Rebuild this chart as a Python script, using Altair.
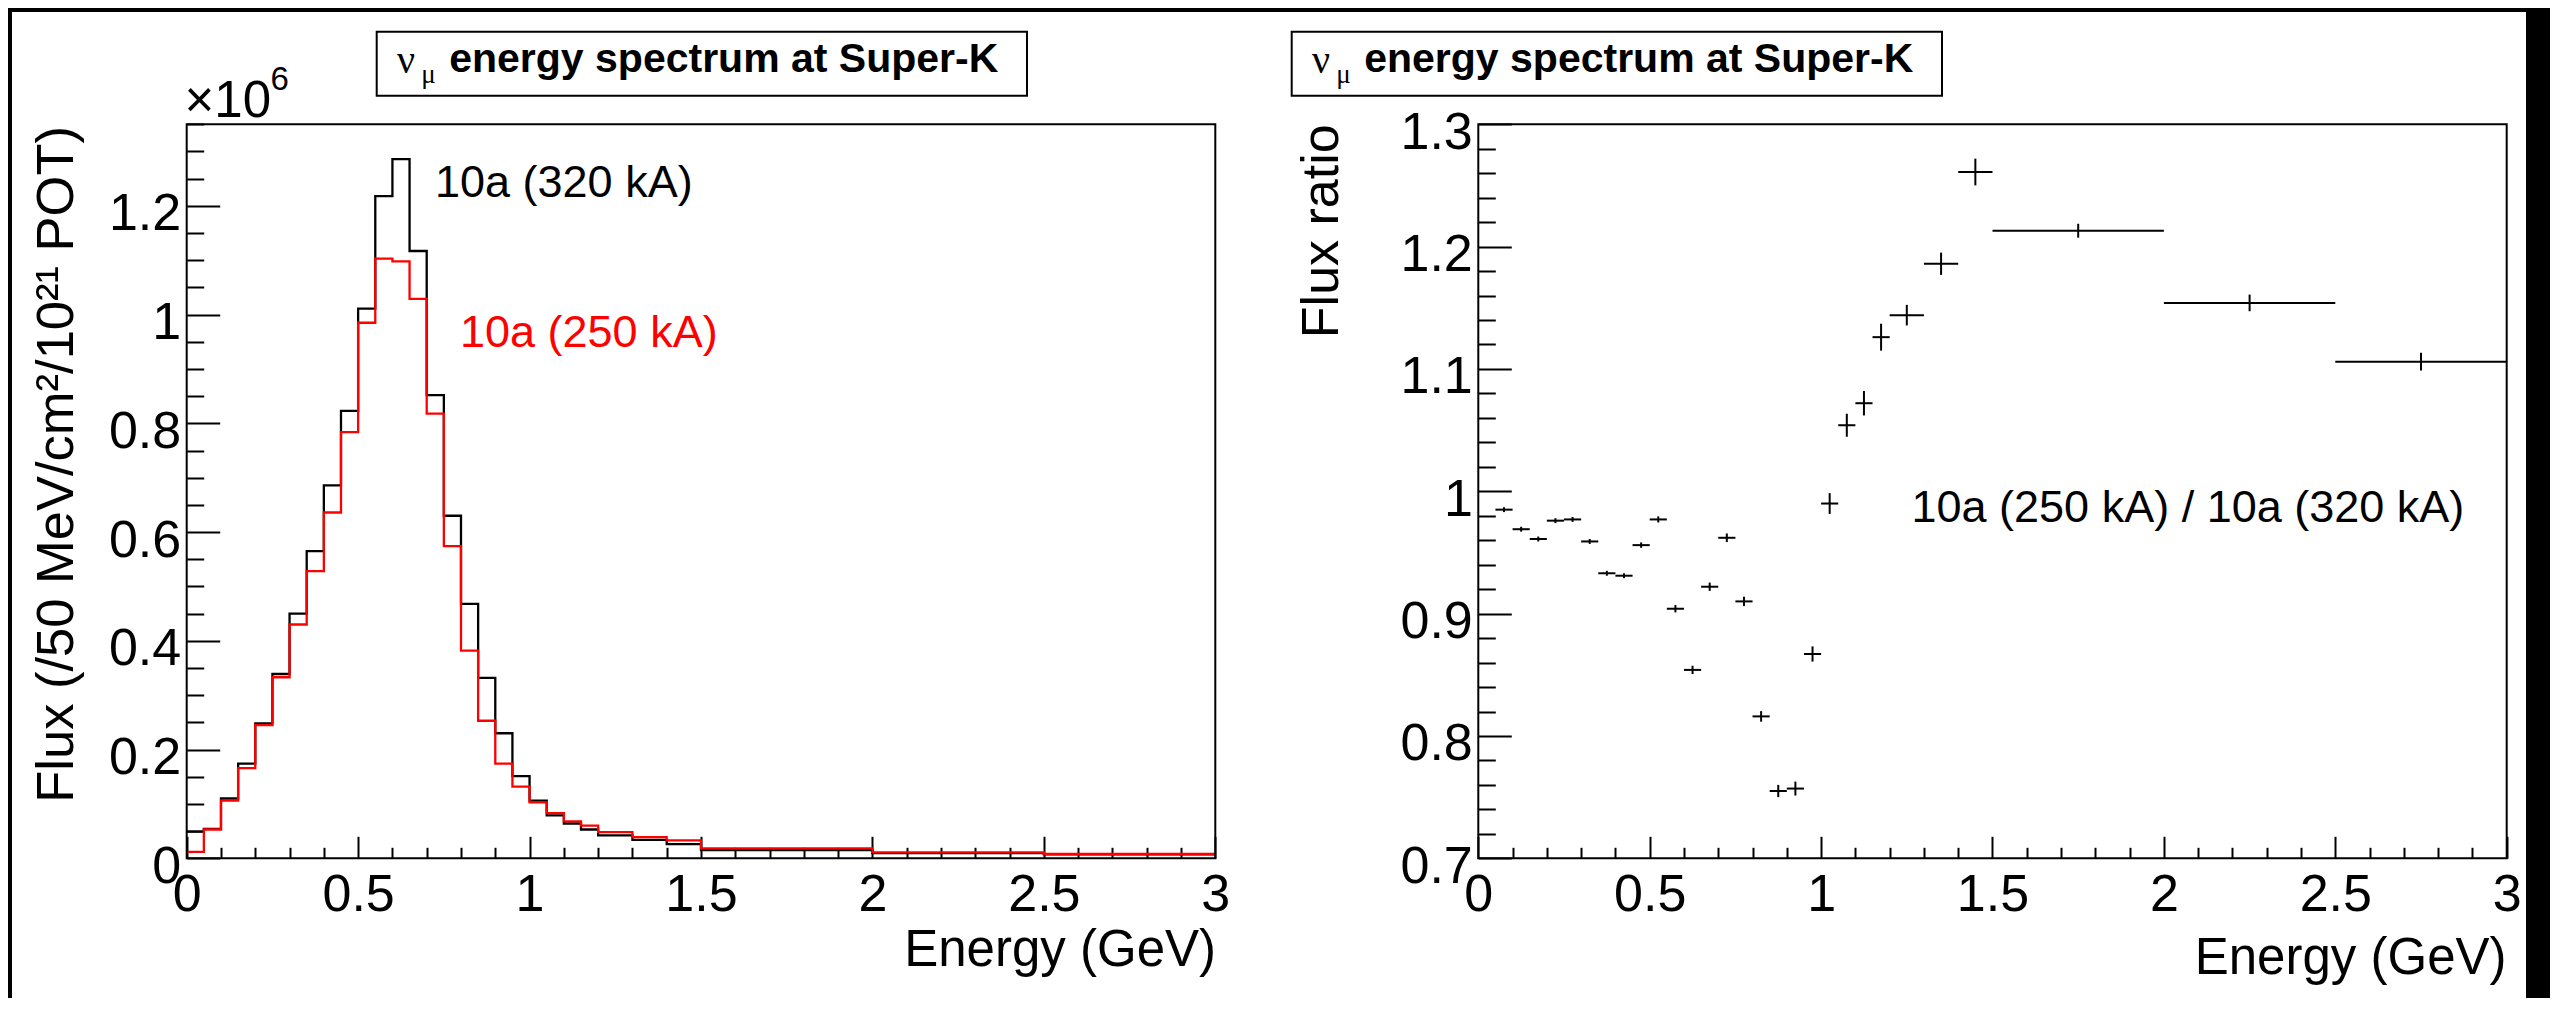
import altair as alt
import pandas as pd

# ---------------- data ----------------
bin_edges = [0.00, 0.05, 0.10, 0.15, 0.20, 0.25, 0.30, 0.35, 0.40, 0.45, 0.50, 0.55,
             0.60, 0.65, 0.70, 0.75, 0.80, 0.85, 0.90, 0.95, 1.00, 1.05, 1.10, 1.15,
             1.20, 1.30, 1.40, 1.50, 2.00, 2.50, 3.00]

# flux in units of 1e6 (/50 MeV/cm2/1e21 POT)
flux_320 = [0.049, 0.054, 0.110, 0.174, 0.248, 0.339, 0.450, 0.565, 0.686, 0.823,
            1.011, 1.218, 1.286, 1.117, 0.852, 0.630, 0.468, 0.332, 0.230, 0.151,
            0.106, 0.079, 0.064, 0.053, 0.042, 0.034, 0.026, 0.0152, 0.0095, 0.0072]
flux_250 = [0.012, 0.053, 0.106, 0.166, 0.245, 0.333, 0.430, 0.528, 0.636, 0.784,
            0.985, 1.103, 1.098, 1.029, 0.818, 0.574, 0.382, 0.253, 0.174, 0.132,
            0.103, 0.083, 0.068, 0.060, 0.048, 0.039, 0.033, 0.0184, 0.011, 0.0079]

# ratio 250 kA / 320 kA for bins 2..30 (first bin is off scale)
ratio_250_320 = [0.985, 0.969, 0.961, 0.976, 0.977, 0.959, 0.933, 0.931, 0.956, 0.977,
                 0.904, 0.854, 0.922, 0.962, 0.910, 0.816, 0.755, 0.757, 0.867, 0.990,
                 1.054, 1.072, 1.126, 1.144, 1.186, 1.261, 1.213, 1.154, 1.106]
ratio_err = [0.002, 0.002, 0.002, 0.002, 0.002, 0.002, 0.002, 0.002, 0.0022, 0.0025,
             0.003, 0.0034, 0.0034, 0.0035, 0.0038, 0.0043, 0.005, 0.0057, 0.0062, 0.0085,
             0.0094, 0.010, 0.011, 0.0084, 0.0091, 0.0109, 0.0057, 0.0068, 0.0072]

x_major = [0, 0.5, 1, 1.5, 2, 2.5, 3]
x_minor = [round(0.1 * i, 1) for i in range(31) if i % 5]
flux_major = [0, 0.2, 0.4, 0.6, 0.8, 1, 1.2]
flux_minor = [round(0.05 * i, 2) for i in range(28) if i % 4]
ratio_major = [0.7, 0.8, 0.9, 1, 1.1, 1.2, 1.3]
ratio_minor = [round(0.7 + 0.02 * i, 2) for i in range(31) if i % 5]

E_RANGE = [0, 3]
FLUX_RANGE = [0, 1.35]
RATIO_RANGE = [0.7, 1.3]

title_main = "energy spectrum at Super-K"
label_320 = "10a (320 kA)"
label_250 = "10a (250 kA)"
label_ratio = "10a (250 kA) / 10a (320 kA)"
ytitle_flux = "Flux (/50 MeV/cm\u00b2/10\u00b2\u00b9 POT)"
ytitle_ratio = "Flux ratio"
xtitle = "Energy (GeV)"

# ---------------- layout (page pixels) ----------------
PAD = {"left": 4, "top": 4, "right": 24, "bottom": 0}
X0 = 8 + PAD["left"]
Y0 = 8 + PAD["top"]
SPLIT = 1260
XEND = 2526
H = 986
W1 = SPLIT - X0
W2 = XEND - SPLIT
FT, FB = 124.3, 858.3
LFL, LFR = 186.7, 1215.3
RFL, RFR = 1478.3, 2506.7

FONT = "Liberation Sans"
SERIF = "Liberation Serif"
TICK_FS = 52
TITLE_FS = 51


def lin_domain(p_lo, p_hi, v_lo, v_hi, size):
    k = (v_hi - v_lo) / (p_hi - p_lo)
    return [v_lo - p_lo * k, v_lo + (size - p_lo) * k]


def scale(dom):
    return alt.Scale(domain=dom, nice=False, zero=False)


xs_L = scale(lin_domain(LFL - X0, LFR - X0, E_RANGE[0], E_RANGE[1], W1))
xs_R = scale(lin_domain(RFL - SPLIT, RFR - SPLIT, E_RANGE[0], E_RANGE[1], W2))
ys_L = scale(lin_domain(Y0 + H - FB, Y0 + H - FT, FLUX_RANGE[0], FLUX_RANGE[1], H))
ys_R = scale(lin_domain(Y0 + H - FB, Y0 + H - FT, RATIO_RANGE[0], RATIO_RANGE[1], H))


def xaxis(values, tick, labels):
    return alt.Axis(orient="bottom", values=values, tickSize=tick, tickWidth=2,
                    tickColor="black", domain=False, grid=False, labels=labels,
                    title=None, format="~g", labelFont=FONT, labelFontSize=TICK_FS,
                    labelColor="black", labelPadding=11, labelOverlap=False,
                    labelFlush=False, labelBound=False,
                    offset=-((Y0 + H - FB) + tick))


def yaxis(values, tick, labels, frame_left_panel):
    return alt.Axis(orient="left", values=values, tickSize=tick, tickWidth=2,
                    tickColor="black", domain=False, grid=False, labels=labels,
                    title=None, format="~g", labelFont=FONT, labelFontSize=TICK_FS,
                    labelColor="black", labelPadding=6, labelOffset=8,
                    labelOverlap=False, labelFlush=False, labelBound=False,
                    offset=-(frame_left_panel + tick))


one = pd.DataFrame({"k": [0]})


def text(s, px, py, size, color="black", align="left", angle=0, font=FONT, weight="normal"):
    props = dict(text=s, fontSize=size, color=color, align=align,
                 baseline="alphabetic", font=font, fontWeight=weight)
    if angle:
        props["angle"] = angle
    return alt.Chart(one).mark_text(**props).encode(x=alt.value(px), y=alt.value(py))


def box(x1, x2, y1, y2):
    return alt.Chart(one).mark_rect(fill="white", stroke="black", strokeWidth=2).encode(
        x=alt.value(x1), x2=alt.value(x2), y=alt.value(y1), y2=alt.value(y2))


def title_block(ox, box_left):
    b = box_left
    return [
        box(b - ox, b + 650.3 - ox, 31.7 - Y0, 95.7 - Y0),
        text("\u03bd", b + 20.3 - ox, 73 - Y0, 40, font=SERIF),
        text("\u03bc", b + 44.5 - ox, 83 - Y0, 27, font=SERIF),
        text(title_main, b + 72.5 - ox, 72 - Y0, 41, weight="bold"),
    ]


def frame(xs, ys, yr):
    df = pd.DataFrame({"x0": [E_RANGE[0]], "x1": [E_RANGE[1]], "y0": [yr[0]], "y1": [yr[1]]})
    return alt.Chart(df).mark_rect(fillOpacity=0, stroke="black", strokeWidth=2).encode(
        x=alt.X("x0:Q", scale=xs, axis=None), x2="x1:Q",
        y=alt.Y("y0:Q", scale=ys, axis=None), y2="y1:Q")


# ---------------- left panel: spectra ----------------
def step_df(vals):
    return pd.DataFrame({"e": bin_edges, "v": list(vals) + [vals[-1]]})


hist_320 = alt.Chart(step_df(flux_320)).mark_line(
    interpolate="step-after", color="black", strokeWidth=2.3).encode(
    x=alt.X("e:Q", scale=xs_L, axis=xaxis(x_major, 22, True)),
    y=alt.Y("v:Q", scale=ys_L, axis=yaxis(flux_major, 33, True, LFL - X0)))

hist_250 = alt.Chart(step_df(flux_250)).mark_line(
    interpolate="step-after", color="#ff0000", strokeWidth=2.3).encode(
    x=alt.X("e:Q", scale=xs_L, axis=xaxis(x_minor, 11, False)),
    y=alt.Y("v:Q", scale=ys_L, axis=yaxis(flux_minor, 17, False, LFL - X0)))

left_layers = [hist_320, hist_250, frame(xs_L, ys_L, FLUX_RANGE)] + title_block(X0, 376.7) + [
    text("\u00d710", 184.5 - X0, 116.7 - Y0, 51),
    text("6", 270.5 - X0, 90 - Y0, 33),
    text(label_320, 435 - X0, 197.3 - Y0, 45),
    text(label_250, 460 - X0, 346.7 - Y0, 45, color="#ff0000"),
    text(ytitle_flux, 72.7 - X0, 126 - Y0, 52.5, align="right", angle=270),
    text(xtitle, 1216 - X0, 966 - Y0, TITLE_FS, align="right"),
]

left = alt.layer(*left_layers).resolve_axis(x="independent", y="independent").properties(
    width=W1, height=H)

# ---------------- right panel: ratio ----------------
rdf = pd.DataFrame({"lo": bin_edges[1:-1], "hi": bin_edges[2:],
                    "r": ratio_250_320, "err": ratio_err})

rbase = alt.Chart(rdf).transform_calculate(
    c="(datum.lo + datum.hi) / 2", ylo="datum.r - datum.err", yhi="datum.r + datum.err")

hbar = rbase.mark_rule(color="black", strokeWidth=2).encode(
    x=alt.X("lo:Q", scale=xs_R, axis=xaxis(x_major, 22, True)), x2="hi:Q",
    y=alt.Y("r:Q", scale=ys_R, axis=yaxis(ratio_major, 33, True, RFL - SPLIT)))

vbar = rbase.mark_rule(color="black", strokeWidth=2).encode(
    x=alt.X("c:Q", scale=xs_R, axis=xaxis(x_minor, 11, False)),
    y=alt.Y("ylo:Q", scale=ys_R, axis=yaxis(ratio_minor, 17, False, RFL - SPLIT)), y2="yhi:Q")

right_layers = [hbar, vbar, frame(xs_R, ys_R, RATIO_RANGE)] + title_block(SPLIT, 1291.7) + [
    text(label_ratio, 1911.5 - SPLIT, 521.7 - Y0, 45),
    text(ytitle_ratio, 1337.5 - SPLIT, 124.3 - Y0, 52, align="right", angle=270),
    text(xtitle, 2506.5 - SPLIT, 974 - Y0, TITLE_FS, align="right"),
]

right = alt.layer(*right_layers).resolve_axis(x="independent", y="independent").properties(
    width=W2, height=H)

chart = alt.hconcat(left, right, spacing=0).properties(
    background="black", padding=PAD).configure_view(fill="white", strokeWidth=0)

chart.save("out.html", embed_options={"renderer": "svg", "actions": False})
